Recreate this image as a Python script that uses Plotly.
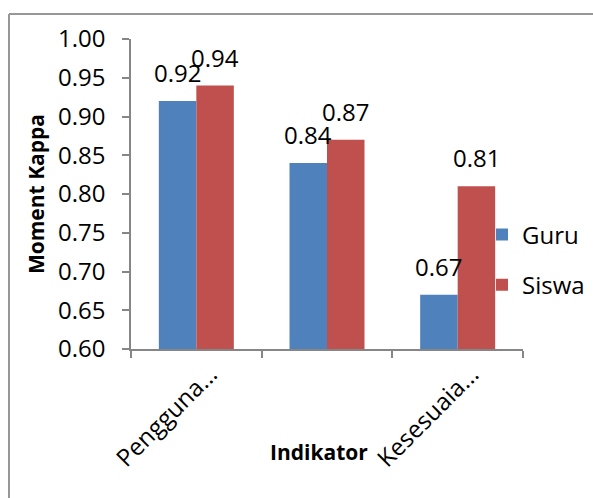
import plotly.graph_objects as go

# ---- data ----
categories = ["Pengguna...", "Indikator 2", "Kesesuaia..."]
tick_labels = ["Pengguna...", "", "Kesesuaia..."]
series_names = ["Guru", "Siswa"]
guru = [0.92, 0.84, 0.67]
siswa = [0.94, 0.87, 0.81]
y_tick_vals = [0.60, 0.65, 0.70, 0.75, 0.80, 0.85, 0.90, 0.95, 1.00]
y_range = [0.60, 1.00]

colors = ["#4F81BD", "#C0504D"]
FONT = "Open Sans"
BARGAP = 0.426

W, H = 593, 498
L, R, T, B = 131, 70, 39, 149
pw = W - L - R
ph = H - T - B


def px(xi):
    return (xi - L) / pw


def py(yi):
    return (H - B - yi) / ph


fig = go.Figure()
for i, (name, vals) in enumerate(zip(series_names, [guru, siswa])):
    fig.add_trace(go.Bar(
        x=categories, y=vals, name=name,
        marker=dict(color=colors[i], line=dict(width=0)),
        legendgroup=name,
    ))

# data labels above each bar
annotations = []
half = (1 - BARGAP) / 4
for i, vals in enumerate([guru, siswa]):
    for j, v in enumerate(vals):
        annotations.append(dict(
            x=j + (-half if i == 0 else half), y=v, xref="x", yref="y",
            text=f"{v:.2f}", showarrow=False, yanchor="bottom",
            yshift=10, font=dict(family=FONT, size=24, color="#000000"),
        ))

# x-axis title (sits between the rotated labels, like the original)
annotations.append(dict(
    x=px(319), y=py(452), xref="paper", yref="paper",
    text="<b>Indikator</b>", showarrow=False, xanchor="center", yanchor="middle",
    font=dict(family=FONT, size=21, color="#000000"),
))

border = dict(color="#979797", width=2)
fig.update_layout(
    width=W, height=H,
    margin=dict(l=L, r=R, t=T, b=B, autoexpand=False),
    paper_bgcolor="white", plot_bgcolor="white",
    barmode="group", bargap=BARGAP, bargroupgap=0,
    font=dict(family=FONT, size=24, color="#000000"),
    showlegend=True,
    legend=dict(
        x=px(482), y=py(260), xanchor="left", yanchor="middle",
        bgcolor="rgba(0,0,0,0)", font=dict(family=FONT, size=24),
        traceorder="grouped", tracegroupgap=16,
    ),
    annotations=annotations,
    shapes=[
        dict(type="line", xref="paper", yref="paper",
             x0=px(9), x1=px(640), y0=py(14), y1=py(14), line=border, layer="below"),
        dict(type="line", xref="paper", yref="paper",
             x0=px(9), x1=px(9), y0=py(14), y1=py(540), line=border, layer="below"),
    ],
)

fig.update_xaxes(
    type="category", tickmode="array", tickvals=categories, ticktext=tick_labels,
    tickson="boundaries", ticks="outside", ticklen=7, tickcolor="#868686", tickwidth=1.5,
    showline=True, linecolor="#868686", linewidth=1.5, showgrid=False,
    tickangle=-45, tickfont=dict(family=FONT, size=24), automargin=False,
    ticklabelshift=14,
)
fig.update_yaxes(
    range=y_range, tickmode="array", tickvals=y_tick_vals,
    tickformat=".2f", ticks="outside", ticklen=7, tickcolor="#868686", tickwidth=1.5,
    showline=True, linecolor="#868686", linewidth=1.5, showgrid=False, zeroline=False,
    tickfont=dict(family=FONT, size=24), ticklabelstandoff=12,
    title=dict(text="<b>Moment Kappa</b>", font=dict(family=FONT, size=21), standoff=8),
    automargin=False,
)

fig.write_html(
    "out.html",
    config={"displayModeBar": False},
    post_script="document.body.style.margin='0';document.body.style.overflow='hidden';",
)
